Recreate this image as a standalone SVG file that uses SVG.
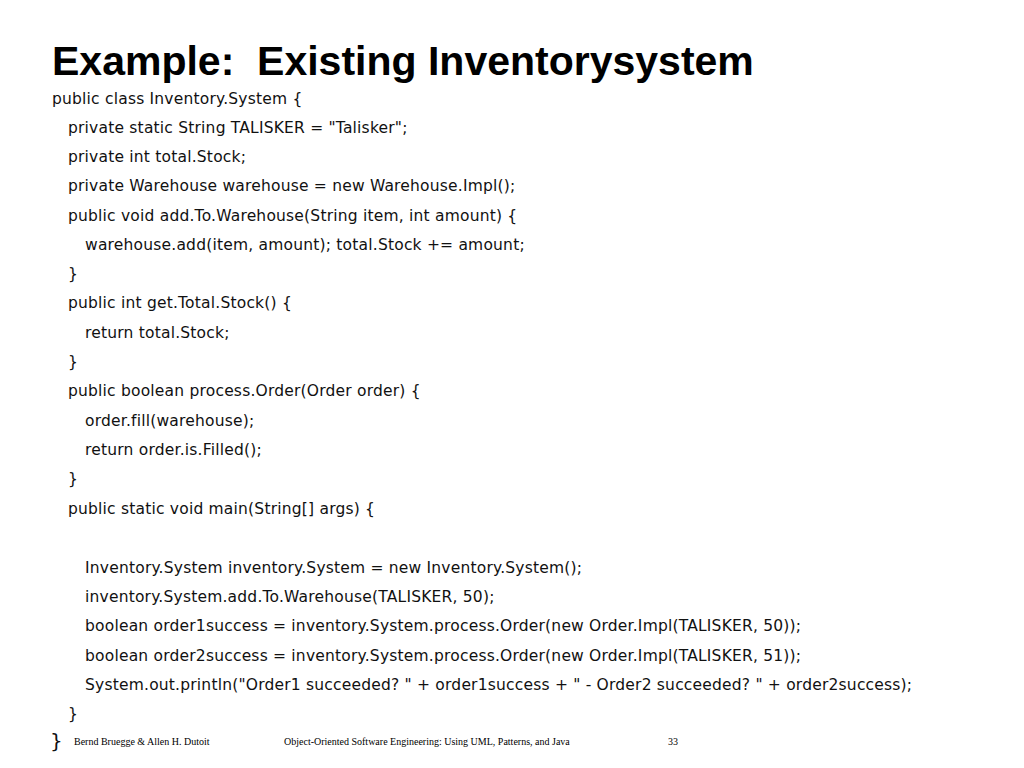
<svg xmlns="http://www.w3.org/2000/svg" width="1024" height="768" viewBox="0 0 1024 768">
<style>
.t{font-family:"Liberation Sans",Arial,sans-serif;font-weight:bold;font-size:41px;fill:#000;white-space:pre}
.c{font-family:"DejaVu Sans",Verdana,sans-serif;font-size:15.5px;letter-spacing:0.2px;fill:#111}
.f{font-family:"Liberation Serif","Times New Roman",serif;font-size:10px;fill:#000}
</style>
<rect width="1024" height="768" fill="#fff"/>
<text class="t" x="52" y="75" xml:space="preserve">Example:  Existing Inventorysystem</text>
<g id="code">
<text class="c" x="52" y="104">public class Inventory.System {</text>
<text class="c" x="68" y="133">private static String TALISKER = "Talisker";</text>
<text class="c" x="68" y="162">private int total.Stock;</text>
<text class="c" x="68" y="191">private Warehouse warehouse = new Warehouse.Impl();</text>
<text class="c" x="68" y="221">public void add.To.Warehouse(String item, int amount) {</text>
<text class="c" x="85" y="250">warehouse.add(item, amount); total.Stock += amount;</text>
<text class="c" x="68" y="279">}</text>
<text class="c" x="68" y="308">public int get.Total.Stock() {</text>
<text class="c" x="85" y="338">return total.Stock;</text>
<text class="c" x="68" y="367">}</text>
<text class="c" x="68" y="396">public boolean process.Order(Order order) {</text>
<text class="c" x="85" y="426">order.fill(warehouse);</text>
<text class="c" x="85" y="455">return order.is.Filled();</text>
<text class="c" x="68" y="484">}</text>
<text class="c" x="68" y="514">public static void main(String[] args) {</text>
<text class="c" x="85" y="573">Inventory.System inventory.System = new Inventory.System();</text>
<text class="c" x="85" y="602">inventory.System.add.To.Warehouse(TALISKER, 50);</text>
<text class="c" x="85" y="631">boolean order1success = inventory.System.process.Order(new Order.Impl(TALISKER, 50));</text>
<text class="c" x="85" y="661">boolean order2success = inventory.System.process.Order(new Order.Impl(TALISKER, 51));</text>
<text class="c" x="85" y="690">System.out.println("Order1 succeeded? " + order1success + " - Order2 succeeded? " + order2success);</text>
<text class="c" x="68" y="719">}</text>
<text class="c" x="50" y="748" style="font-size:20px">}</text>
</g>
<g id="footer">
<text class="f" x="74" y="745">Bernd Bruegge &amp; Allen H. Dutoit</text>
<text class="f" x="284" y="745">Object-Oriented Software Engineering: Using UML, Patterns, and Java</text>
<text class="f" x="668" y="745">33</text>
</g>
</svg>
